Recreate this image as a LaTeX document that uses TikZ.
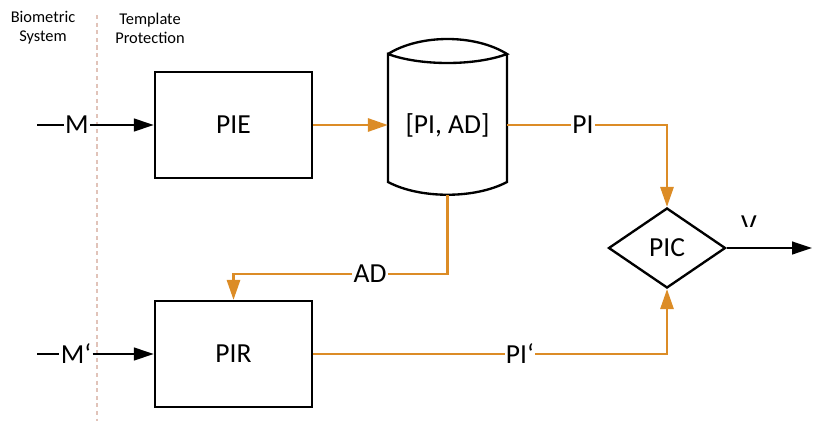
\documentclass[tikz,border=0pt]{standalone}
\usepackage{fontspec}
\setmainfont{Carlito}
\usepackage{xcolor}
\usetikzlibrary{shapes,arrows,positioning,calc,arrows.meta}
\definecolor{flowc}{RGB}{220,140,38}
\definecolor{divc}{RGB}{225,195,185}

\begin{document}
\begin{tikzpicture}[x=0.03cm,y=-0.03cm,
    block/.style={draw, line width=2pt, minimum width=4.71cm, minimum height=3.18cm, font=\fontsize{23.5}{26}\selectfont},
    lbl/.style={fill=white, inner sep=1pt, font=\fontsize{23.5}{26}\selectfont},
    head/.style={align=center, font=\fontsize{14}{16}\selectfont},
    sig/.style={line width=2pt, -{Triangle[length=0.6cm,width=0.38cm]}},
    flow/.style={draw=flowc, line width=1.8pt},
    flowarr/.style={flow, -{Triangle[length=0.6cm,width=0.4cm]}}]
    \useasboundingbox (0,0) rectangle (813,421);

    % Divider and headings
    \draw[divc, line width=1pt, dash pattern=on 3.5pt off 3pt] (97,15) -- (97,421);
    \node[head] (bio) at (43,28) {Biometric\\System};
    \node[head] (tpl) at (150,28) {Template\\Protection};

    % Blocks
    \node[block] (pie) at (233.5,125) {PIE};
    \node[block] (pir) at (233.5,354) {PIR};
    \node[draw, diamond, line width=2pt, inner sep=0pt, minimum width=3.51cm, minimum height=2.4cm, font=\fontsize{23.5}{26}\selectfont] (pic) at (667,248) {PIC};

    % Database
    \draw[line width=2pt] (388,54) .. controls (420,34) and (475,34) .. (507,54)
        .. controls (475,66) and (420,66) .. (388,54) -- (388,182)
        .. controls (420,199) and (475,199) .. (507,182) -- (507,54);
    \node[minimum width=3.57cm, inner sep=0pt, font=\fontsize{23.5}{26}\selectfont] (db) at (447.5,125) {[PI, AD]};
    \coordinate (dbbot) at (447.5,195);

    % Inputs
    \coordinate (min) at (37,125);
    \node[lbl] (m) at (77,125) {M};
    \draw[line width=2pt] (min) -- (m);
    \draw[sig] (m) -- (pie);
    \coordinate (mpin) at (37,354);
    \node[lbl] (mp) at (76,354) {M‘};
    \draw[line width=2pt] (mpin) -- (mp);
    \draw[sig] (mp) -- (pir);

    % Data flow
    \draw[flowarr] (pie) -- (db);
    \node[lbl] (pi) at (583,125) {PI};
    \draw[flow] (db.east) -- (pi);
    \draw[flowarr] (pi) -| (pic.north);
    \node[lbl] (ad) at (370,274) {AD};
    \draw[flow] (dbbot) |- (ad);
    \draw[flowarr] (ad) -| (pir.north);
    \node[lbl] (pip) at (520,354) {PI‘};
    \draw[flow] (pir) -- (pip);
    \draw[flowarr] (pip) -| (pic.south);

    % Output
    \coordinate (out) at (812,248);
    \draw[sig] (pic) -- (out);
    \begin{scope}
        \clip (735,205) rectangle (765,226);
        \node[anchor=base, inner sep=0pt, font=\fontsize{23.5}{26}\selectfont] (v) at (749,233) {V};
    \end{scope}
\end{tikzpicture}
\end{document}
